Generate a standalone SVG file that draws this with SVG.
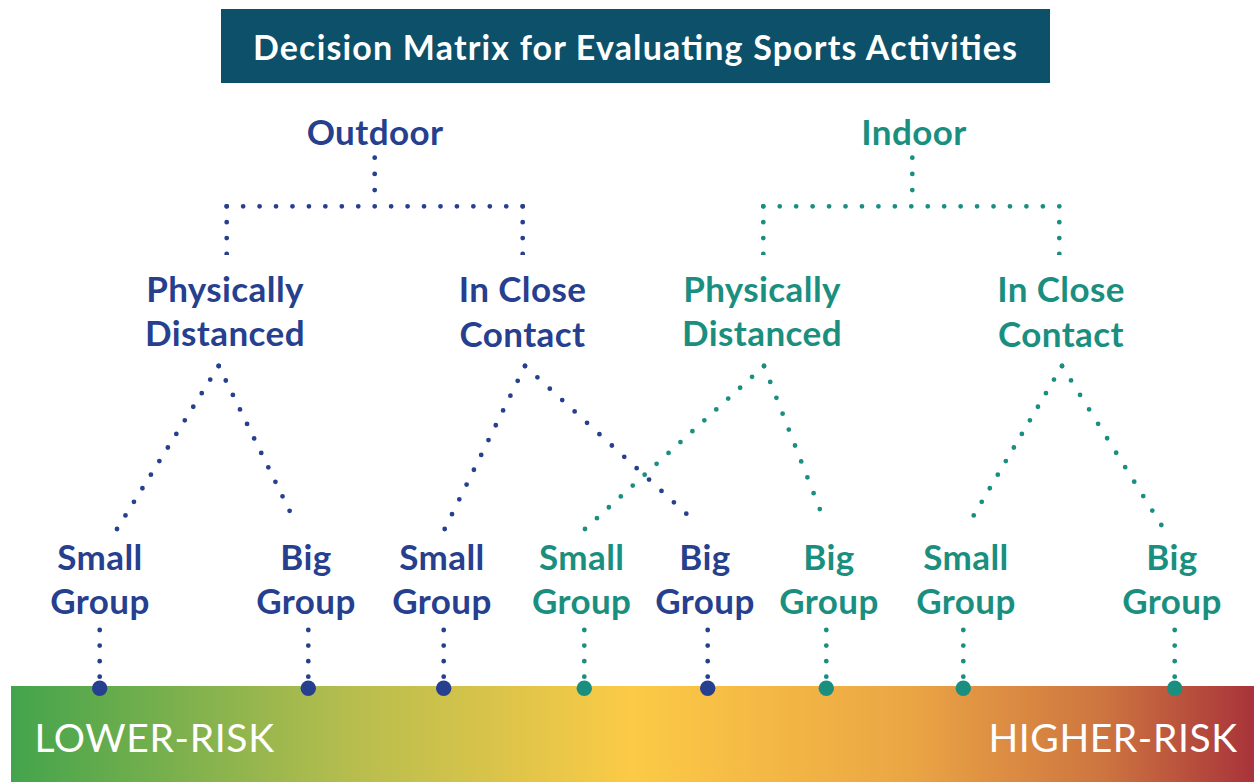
<svg xmlns="http://www.w3.org/2000/svg" width="1254" height="782" viewBox="0 0 1254 782">
<defs>
<linearGradient id="risk" x1="11" y1="0" x2="1254" y2="0" gradientUnits="userSpaceOnUse">
<stop offset="0" stop-color="#43a44c"/>
<stop offset="0.27" stop-color="#b5bd4e"/>
<stop offset="0.5" stop-color="#fcca46"/>
<stop offset="0.72" stop-color="#eba644"/>
<stop offset="0.88" stop-color="#cd7440"/>
<stop offset="1" stop-color="#a8333a"/>
</linearGradient>
<style>
.t{font-family:Lato,"Liberation Sans",sans-serif;font-weight:700;font-size:35px;text-anchor:middle;letter-spacing:0.4px}
.b{fill:#263f8e}
.g{fill:#1b8f7f}
.d{fill:none;stroke-width:4.8;stroke-linecap:round;stroke-dasharray:0 1}
.db{stroke:#263f8e}
.dg{stroke:#1b8f7f}
.risk{font-family:Lato,"Liberation Sans",sans-serif;font-weight:400;font-size:39px;fill:#fff}
</style>
</defs>
<rect x="0" y="0" width="1254" height="782" fill="#fff"/>
<g id="title">
<rect x="221" y="9" width="829" height="74" fill="#0c5069"/>
<text x="253" y="60" font-family="Lato,'Liberation Sans',sans-serif" font-weight="700" font-size="34" fill="#fff" textLength="764" lengthAdjust="spacing">Decision Matrix for Evaluating Sports Activities</text>
</g>
<g id="risk-bar">
<rect x="11" y="686" width="1243" height="96" fill="url(#risk)"/>
<text class="risk" x="34.5" y="752" textLength="239.5" lengthAdjust="spacing">LOWER-RISK</text>
<text class="risk" x="988.5" y="752" textLength="248.5" lengthAdjust="spacing">HIGHER-RISK</text>
</g>
<g id="connectors">
<path class="d db" pathLength="3" d="M374.7 157.7V206.3"/>
<path class="d db" pathLength="18" d="M226.7 206.3H522.7"/>
<path class="d db" pathLength="3" d="M226.7 206.3V254"/>
<path class="d db" pathLength="3" d="M522.7 206.3V254"/>
<path class="d dg" pathLength="3" d="M912.3 157.7V206.3"/>
<path class="d dg" pathLength="18" d="M763.3 206.3H1059.3"/>
<path class="d dg" pathLength="3" d="M763.3 206.3V254"/>
<path class="d dg" pathLength="3" d="M1059.3 206.3V254"/>
<path class="d db" pathLength="12" d="M218.7 366L117 529"/>
<path class="d db" pathLength="11" d="M218.7 366L296.7 525.3"/>
<path class="d db" pathLength="11" d="M525 366L444.7 529"/>
<path class="d db" pathLength="14" d="M525 366L698.7 525"/>
<path class="d dg" pathLength="15" d="M764 366L585 529"/>
<path class="d dg" pathLength="10" d="M764 366L826 525"/>
<path class="d dg" pathLength="12" d="M1062 366L965.7 529"/>
<path class="d dg" pathLength="11" d="M1062 366L1161.3 525"/>
<path class="d db" pathLength="3" d="M99.7 630V676.7"/>
<path class="d db" pathLength="3" d="M308.3 630V676.7"/>
<path class="d db" pathLength="3" d="M443.7 630V676.7"/>
<path class="d dg" pathLength="3" d="M584.3 630V676.7"/>
<path class="d db" pathLength="3" d="M707.7 630V676.7"/>
<path class="d dg" pathLength="3" d="M826.3 630V676.7"/>
<path class="d dg" pathLength="3" d="M963.3 630V676.7"/>
<path class="d dg" pathLength="3" d="M1174.7 630V676.7"/>
<g class="b">
<circle cx="99.7" cy="688.3" r="7.7"/>
<circle cx="308.3" cy="688.3" r="7.7"/>
<circle cx="443.7" cy="688.3" r="7.7"/>
<circle cx="707.7" cy="688.3" r="7.7"/>
</g>
<g class="g">
<circle cx="584.3" cy="688.3" r="7.7"/>
<circle cx="826.3" cy="688.3" r="7.7"/>
<circle cx="963.3" cy="688.3" r="7.7"/>
<circle cx="1174.7" cy="688.3" r="7.7"/>
</g>
</g>
<g id="outdoor"><text class="t b" x="375" y="145">Outdoor</text></g>
<g id="indoor"><text class="t g" x="914" y="145">Indoor</text></g>
<g id="out-distanced"><text class="t b" x="225" y="302">Physically</text><text class="t b" x="225" y="346">Distanced</text></g>
<g id="out-close"><text class="t b" x="522.5" y="302">In Close</text><text class="t b" x="522.5" y="347">Contact</text></g>
<g id="in-distanced"><text class="t g" x="762" y="302">Physically</text><text class="t g" x="762" y="346">Distanced</text></g>
<g id="in-close"><text class="t g" x="1061" y="302">In Close</text><text class="t g" x="1061" y="347">Contact</text></g>
<g id="out-dist-small"><text class="t b" x="100" y="570">Small</text><text class="t b" x="100" y="614">Group</text></g>
<g id="out-dist-big"><text class="t b" x="306" y="570">Big</text><text class="t b" x="306" y="614">Group</text></g>
<g id="out-close-small"><text class="t b" x="442" y="570">Small</text><text class="t b" x="442" y="614">Group</text></g>
<g id="in-dist-small"><text class="t g" x="581.7" y="570">Small</text><text class="t g" x="581.7" y="614">Group</text></g>
<g id="out-close-big"><text class="t b" x="705" y="570">Big</text><text class="t b" x="705" y="614">Group</text></g>
<g id="in-dist-big"><text class="t g" x="829" y="570">Big</text><text class="t g" x="829" y="614">Group</text></g>
<g id="in-close-small"><text class="t g" x="966" y="570">Small</text><text class="t g" x="966" y="614">Group</text></g>
<g id="in-close-big"><text class="t g" x="1172" y="570">Big</text><text class="t g" x="1172" y="614">Group</text></g>
</svg>
